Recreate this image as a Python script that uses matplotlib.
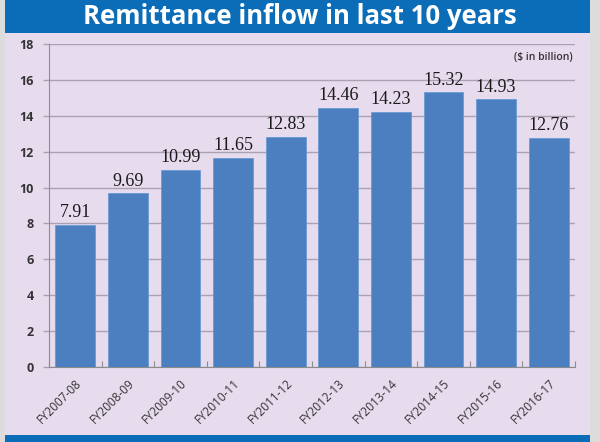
import matplotlib
matplotlib.use("Agg")
import matplotlib.pyplot as plt
from matplotlib.patches import Rectangle

categories = ["FY2007-08", "FY2008-09", "FY2009-10", "FY2010-11", "FY2011-12",
              "FY2012-13", "FY2013-14", "FY2014-15", "FY2015-16", "FY2016-17"]
values = [7.91, 9.69, 10.99, 11.65, 12.83, 14.46, 14.23, 15.32, 14.93, 12.76]
yticks = [0, 2, 4, 6, 8, 10, 12, 14, 16, 18]

W, H = 600, 442
fig = plt.figure(figsize=(6, 4.42), dpi=100)
bg = "#e7dcee"
fig.patch.set_facecolor("#dcdcdc")

# lavender panel
fig.patches.append(Rectangle((5 / W, 0), 585 / W, 1, transform=fig.transFigure,
                             facecolor=bg, edgecolor="none", zorder=-3))
# title banner
fig.patches.append(Rectangle((5 / W, 1 - 33 / H), 585 / W, 33 / H, transform=fig.transFigure,
                             facecolor="#0b6db8", edgecolor="none", zorder=-2))
# bottom band
fig.patches.append(Rectangle((5 / W, 0), 585 / W, 7 / H, transform=fig.transFigure,
                             facecolor="#0b6db8", edgecolor="none", zorder=-2))

fig.text(300 / W, 1 - 17 / H, "Remittance inflow in last 10 years", ha="center", va="center",
         color="white", fontsize=18.5, fontweight="bold", family="Open Sans", zorder=3)

ax = fig.add_axes([49 / W, 1 - 367 / H, (575 - 49) / W, (367 - 44) / H])
ax.set_zorder(2)
ax.set_facecolor("none")
x = range(len(categories))
bars = ax.bar(x, values, width=0.76, color="#4b7fbf", edgecolor="#6a9ad4", linewidth=0.6, zorder=3)
ax.set_xlim(-0.5, len(categories) - 0.5)
ax.set_ylim(0, 18)
ax.set_yticks(yticks)
ax.set_yticklabels([str(t) for t in yticks], fontsize=9, fontweight="bold", color="#333333",
                   family="Open Sans")
ax.yaxis.grid(True, color="#a8a2b2", linewidth=1.0, zorder=0)
ax.set_axisbelow(True)
for s in ["top", "right"]:
    ax.spines[s].set_visible(False)
ax.spines["left"].set_color("#8c8c8c")
ax.spines["bottom"].set_color("#8c8c8c")
ax.tick_params(axis="y", length=4, width=1.0, color="#a8a2b2", pad=7)
ax.set_xticks([i - 0.5 for i in range(len(categories) + 1)], minor=False)
ax.set_xticklabels([""] * (len(categories) + 1))
ax.tick_params(axis="x", length=4, color="#8c8c8c", direction="in")
ax.set_xticks(list(x), minor=True)
ax.set_xticklabels(categories, minor=True, rotation=45, ha="right", rotation_mode="anchor",
                   fontsize=8.5, color="#333333", family="Open Sans")
ax.tick_params(axis="x", which="minor", length=0, pad=7)

for xi, v in zip(x, values):
    ax.text(xi, v + 0.2, f"{v:.2f}", ha="center", va="bottom", fontsize=13,
            family="Liberation Serif", color="#1a1a1a")

ax.text(0.995, 0.975, "($ in billion)", transform=ax.transAxes, ha="right", va="top",
        fontsize=7.5, color="#333333", family="Open Sans", fontweight="semibold")

fig.savefig("out.png", dpi=100, facecolor=fig.get_facecolor())
